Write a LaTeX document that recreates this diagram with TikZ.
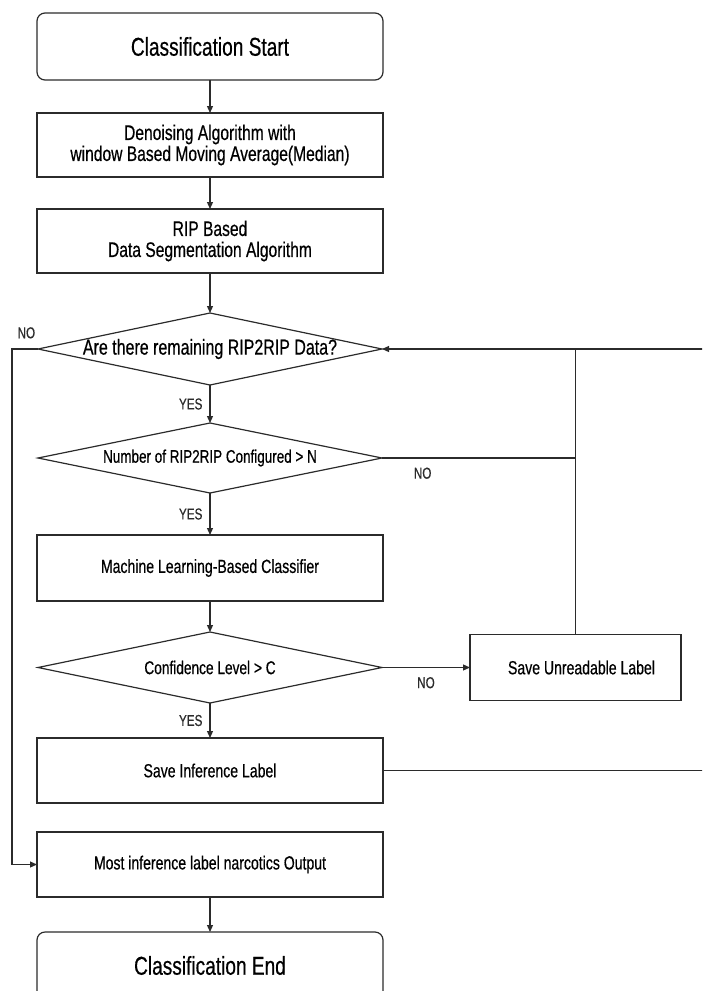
\documentclass[tikz,border=0pt]{standalone}
\usepackage{fontspec}
\setmainfont{Liberation Sans}[FakeStretch=0.74,FakeBold=0.5]
\usepackage{tikz}
\usetikzlibrary{arrows.meta,positioning,shapes.geometric}
\definecolor{fcline}{HTML}{2B2B2B}

\begin{document}
\begin{tikzpicture}[
  terminal/.style={
    rectangle, draw=fcline, rounded corners=8pt, line width=1.2pt, outer sep=0pt,
    minimum width=346pt, minimum height=67pt, align=center,
    font=\fontsize{25.8}{28}\selectfont
  },
  procbox/.style={
    rectangle, draw=fcline, line width=1.2pt, outer sep=0pt,
    minimum width=346pt, minimum height=65pt, align=center,
    font=\fontsize{19}{21}\selectfont
  },
  decision/.style={
    diamond, draw=fcline, line width=1.2pt, aspect=4.8, inner sep=0pt, outer sep=0pt,
    minimum width=344pt, minimum height=71pt,
    font=\fontsize{19}{21}\selectfont
  },
  lbl/.style={inner sep=1pt, font=\fontsize{15.8}{16}\selectfont},
  arr/.style={-{Triangle[length=7pt,width=6pt]}, line width=1.2pt, color=fcline},
  line/.style={line width=1.2pt, color=fcline},
]
  \useasboundingbox (0,0) rectangle (702pt,-991pt);
  \clip (0,0) rectangle (702pt,-991pt);

  % Main column
  \node[terminal] (start) at (210pt,-46.5pt) {Classification Start};
  \node[procbox, below=33pt of start, minimum height=64pt,
        font=\fontsize{21.1}{21}\selectfont] (denoise)
        {Denoising Algorithm with\\window Based Moving Average(Median)};
  \node[procbox, below=32pt of denoise, minimum height=64pt,
        font=\fontsize{21.1}{21}\selectfont] (ripseg)
        {RIP Based\\Data Segmentation Algorithm};
  \node[decision, below=40pt of ripseg, minimum height=72pt,
        font=\fontsize{21.6}{22}\selectfont] (remain) {\makebox[0pt]{Are there remaining RIP2RIP Data?}};
  \node[decision, below=38pt of remain, minimum height=70pt,
        font=\fontsize{18.2}{20}\selectfont] (count) {\makebox[0pt]{Number of RIP2RIP Configured > N}};
  \node[procbox, below=42pt of count, minimum height=66pt] (mlclf) {Machine Learning-Based Classifier};
  \node[decision, below=31pt of mlclf,
        font=\fontsize{18.5}{20}\selectfont] (conf) {\makebox[0pt]{Confidence Level > C}};
  \node[procbox, below=35pt of conf] (saveinf) {Save Inference Label};
  \node[procbox, below=29pt of saveinf] (most) {Most inference label narcotics Output};
  \node[terminal, below=35pt of most] (finish) {Classification End};

  % Side branch
  \node[procbox, right=88pt of conf, minimum width=211pt, minimum height=66pt] (unread) {\hspace{12pt}Save Unreadable Label};
  \coordinate[right=330pt of remain.east] (loopin);

  % Arrows
  \draw[arr] (start) -- (denoise);
  \draw[arr] (denoise) -- (ripseg);
  \draw[arr] (ripseg) -- (remain);
  \draw[arr] (remain) -- node[lbl, left=6pt] {YES} (count);
  \draw[arr] (count) -- node[lbl, left=6pt] {YES} (mlclf);
  \draw[arr] (mlclf) -- (conf);
  \draw[arr] (conf) -- node[lbl, left=6pt] {YES} (saveinf);
  \draw[arr] (most) -- (finish);
  \draw[arr] (conf) -- node[lbl, below=8pt] {NO} (unread);
  \draw[arr] (remain.west) -- ++(-26pt,0) node[lbl, above right=9pt and 4pt] {NO} |- (most.west);
  \draw[line] (count.east) -- node[lbl, pos=0.21, below=8pt] {NO} (count.east -| unread.north);
  \draw[line] (unread.north) -- (unread.north |- remain.east);
  \draw[arr] (saveinf.east) -| (loopin) -- (remain.east);
\end{tikzpicture}
\end{document}
